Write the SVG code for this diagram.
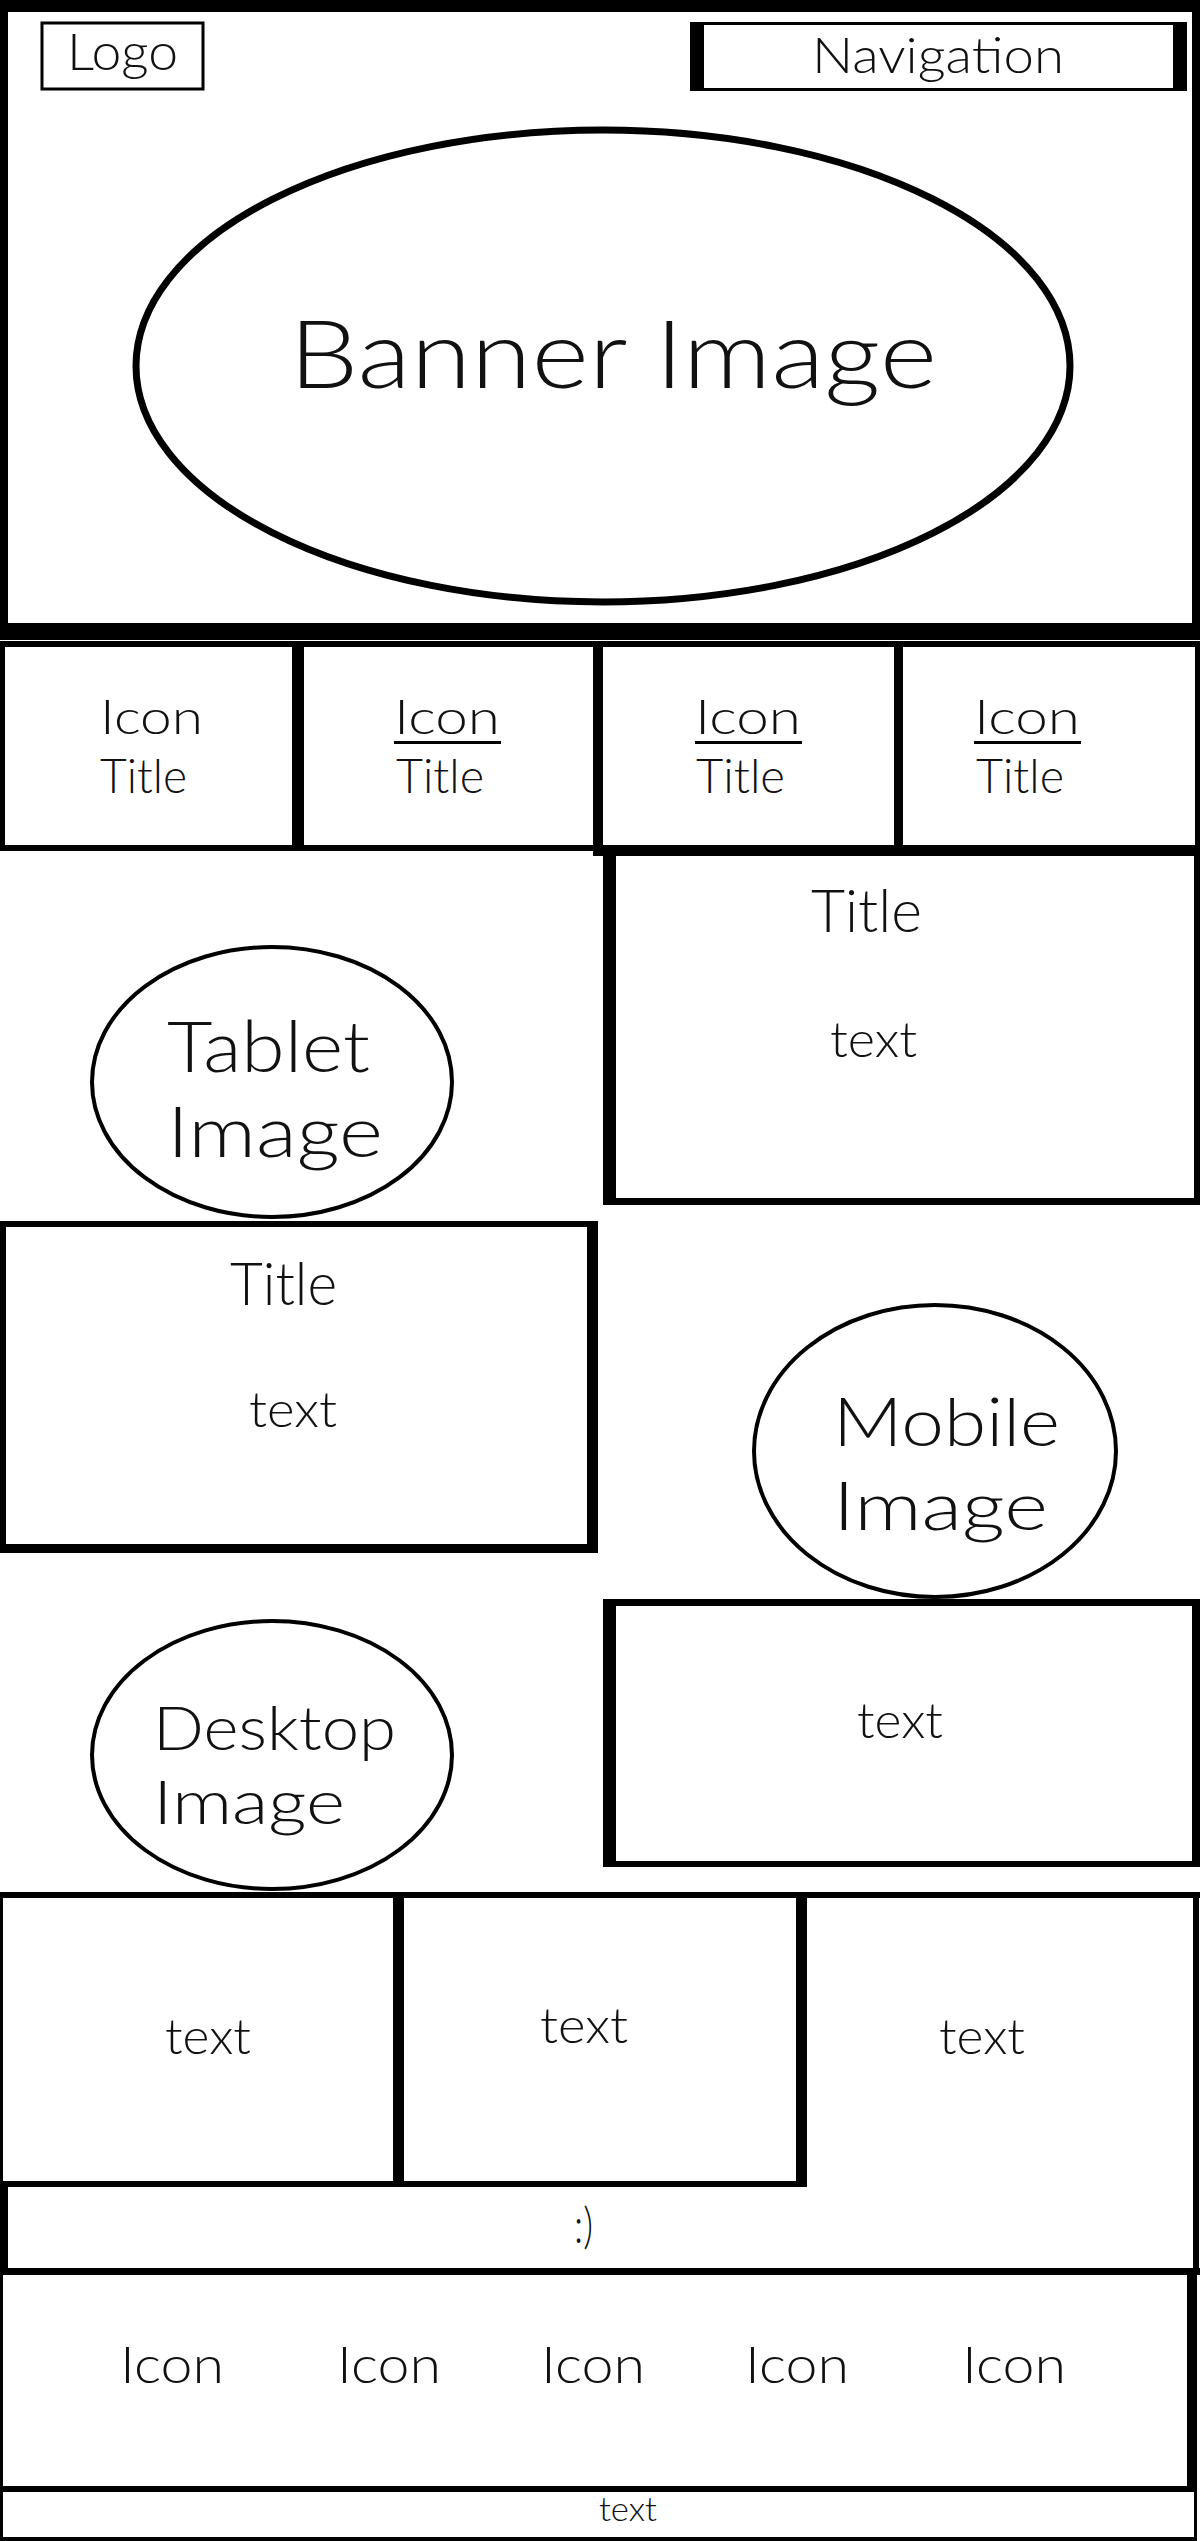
<svg xmlns="http://www.w3.org/2000/svg" width="1200" height="2541" viewBox="0 0 1200 2541">
<style>
.f{fill:#000}
.s{fill:none;stroke:#000}
.t{font-family:Lato,"DejaVu Sans",sans-serif;font-weight:300;fill:#111}
</style>
<rect width="1200" height="2541" fill="#fff"/>
<g id="header">
<path class="f" fill-rule="evenodd" d="M0 0H1200V640H0Z M8 12V623H1192V12Z"/>
</g>
<g id="logo">
<rect class="s" x="42" y="23" width="161" height="66" stroke-width="3"/>
<text class="t" x="67" y="70" font-size="51" textLength="111" lengthAdjust="spacingAndGlyphs">Logo</text>
</g>
<g id="navigation">
<rect class="s" x="691.5" y="23.5" width="494" height="66" stroke-width="3"/>
<rect class="f" x="690" y="22" width="14" height="69"/>
<rect class="f" x="1173" y="22" width="14" height="69"/>
<text class="t" x="812" y="73" font-size="50" textLength="252" lengthAdjust="spacingAndGlyphs">Navigation</text>
</g>
<g id="banner">
<ellipse class="s" cx="603" cy="366" rx="467" ry="236" stroke-width="7"/>
<text class="t" x="289" y="388" font-size="94" textLength="648" lengthAdjust="spacingAndGlyphs">Banner Image</text>
</g>
<g id="icon-row">
<rect class="f" x="0" y="641" width="1200" height="6"/>
<rect class="f" x="0" y="845" width="603" height="6"/>
<rect class="f" x="593" y="845" width="607" height="11"/>
<rect class="f" x="0" y="641" width="5" height="210"/>
<rect class="f" x="292" y="641" width="12" height="210"/>
<rect class="f" x="593" y="641" width="10" height="210"/>
<rect class="f" x="894" y="641" width="9" height="210"/>
<rect class="f" x="1195" y="641" width="5" height="214"/>
</g>
<g id="icon-title-1">
<text class="t" x="100" y="734" font-size="47" textLength="103" lengthAdjust="spacingAndGlyphs">Icon</text>
<text class="t" x="100" y="793" font-size="47" textLength="87" lengthAdjust="spacingAndGlyphs">Title</text>
</g>
<g id="icon-title-2">
<text class="t" x="394" y="734" font-size="47" textLength="106" lengthAdjust="spacingAndGlyphs">Icon</text>
<rect class="f" x="394" y="741" width="107" height="3"/>
<text class="t" x="396" y="793" font-size="47" textLength="88" lengthAdjust="spacingAndGlyphs">Title</text>
</g>
<g id="icon-title-3">
<text class="t" x="695" y="734" font-size="47" textLength="106" lengthAdjust="spacingAndGlyphs">Icon</text>
<rect class="f" x="695" y="741" width="107" height="3"/>
<text class="t" x="696" y="793" font-size="47" textLength="89" lengthAdjust="spacingAndGlyphs">Title</text>
</g>
<g id="icon-title-4">
<text class="t" x="974" y="734" font-size="47" textLength="106" lengthAdjust="spacingAndGlyphs">Icon</text>
<rect class="f" x="974" y="741" width="107" height="3"/>
<text class="t" x="976" y="793" font-size="47" textLength="88" lengthAdjust="spacingAndGlyphs">Title</text>
</g>
<g id="title-box-right">
<rect class="f" x="603" y="845" width="13" height="360"/>
<rect class="f" x="603" y="1198" width="597" height="7"/>
<rect class="f" x="1194" y="845" width="6" height="360"/>
<text class="t" x="811" y="932" font-size="60" textLength="111" lengthAdjust="spacingAndGlyphs">Title</text>
<text class="t" x="830" y="1057" font-size="50" textLength="87" lengthAdjust="spacingAndGlyphs">text</text>
</g>
<g id="tablet-image">
<ellipse class="s" cx="272" cy="1082" rx="180" ry="135" stroke-width="4"/>
<text class="t" x="167" y="1072" font-size="70" textLength="203" lengthAdjust="spacingAndGlyphs">Tablet</text>
<text class="t" x="167" y="1157" font-size="70" textLength="216" lengthAdjust="spacingAndGlyphs">Image</text>
</g>
<g id="title-box-left">
<rect class="f" x="0" y="1221" width="598" height="6"/>
<rect class="f" x="0" y="1221" width="6" height="332"/>
<rect class="f" x="587" y="1221" width="11" height="332"/>
<rect class="f" x="0" y="1544" width="598" height="9"/>
<text class="t" x="230" y="1305" font-size="60" textLength="107" lengthAdjust="spacingAndGlyphs">Title</text>
<text class="t" x="249" y="1427" font-size="50" textLength="88" lengthAdjust="spacingAndGlyphs">text</text>
</g>
<g id="mobile-image">
<ellipse class="s" cx="935" cy="1451" rx="181" ry="146" stroke-width="4"/>
<text class="t" x="833" y="1446" font-size="67" textLength="227" lengthAdjust="spacingAndGlyphs">Mobile</text>
<text class="t" x="833" y="1530" font-size="67" textLength="215" lengthAdjust="spacingAndGlyphs">Image</text>
</g>
<g id="mobile-text-box">
<rect class="f" x="603" y="1599" width="597" height="7"/>
<rect class="f" x="603" y="1599" width="13" height="268"/>
<rect class="f" x="1192" y="1599" width="8" height="268"/>
<rect class="f" x="603" y="1861" width="597" height="6"/>
<text class="t" x="857" y="1738" font-size="50" textLength="86" lengthAdjust="spacingAndGlyphs">text</text>
</g>
<g id="desktop-image">
<ellipse class="s" cx="272" cy="1755" rx="180" ry="134" stroke-width="4"/>
<text class="t" x="153" y="1750" font-size="61" textLength="243" lengthAdjust="spacingAndGlyphs">Desktop</text>
<text class="t" x="153" y="1824" font-size="61" textLength="192" lengthAdjust="spacingAndGlyphs">Image</text>
</g>
<g id="text-row">
<rect class="f" x="0" y="1892" width="1200" height="6"/>
<rect class="f" x="0" y="1892" width="3" height="295"/>
<rect class="f" x="393" y="1892" width="11" height="295"/>
<rect class="f" x="796" y="1892" width="11" height="295"/>
<rect class="f" x="1193" y="1892" width="6" height="383"/>
<rect class="f" x="0" y="2181" width="807" height="6"/>
<text class="t" x="165" y="2054" font-size="50" textLength="86" lengthAdjust="spacingAndGlyphs">text</text>
<text class="t" x="540" y="2043" font-size="50" textLength="88" lengthAdjust="spacingAndGlyphs">text</text>
<text class="t" x="939" y="2054" font-size="50" textLength="86" lengthAdjust="spacingAndGlyphs">text</text>
</g>
<g id="smiley-row">
<rect class="f" x="0" y="2181" width="8" height="94"/>
<rect class="f" x="0" y="2268" width="1200" height="7"/>
<text class="t" x="574" y="2243" font-size="50" textLength="19" lengthAdjust="spacingAndGlyphs">:)</text>
</g>
<g id="icons-row">
<rect class="f" x="0" y="2268" width="3" height="224"/>
<rect class="f" x="1187" y="2268" width="10" height="224"/>
<rect class="f" x="0" y="2486" width="1197" height="6"/>
<text class="t" x="120" y="2383" font-size="51" textLength="104" lengthAdjust="spacingAndGlyphs">Icon</text>
<text class="t" x="337" y="2383" font-size="51" textLength="104" lengthAdjust="spacingAndGlyphs">Icon</text>
<text class="t" x="541" y="2383" font-size="51" textLength="104" lengthAdjust="spacingAndGlyphs">Icon</text>
<text class="t" x="745" y="2383" font-size="51" textLength="104" lengthAdjust="spacingAndGlyphs">Icon</text>
<text class="t" x="962" y="2383" font-size="51" textLength="104" lengthAdjust="spacingAndGlyphs">Icon</text>
</g>
<g id="footer">
<rect class="f" x="0" y="2486" width="3" height="55"/>
<rect class="f" x="1194" y="2492" width="3" height="49"/>
<rect class="f" x="0" y="2537" width="1197" height="4"/>
<text class="t" x="599" y="2521" font-size="34" textLength="58" lengthAdjust="spacingAndGlyphs">text</text>
</g>
<g id="connectors"/>
</svg>
